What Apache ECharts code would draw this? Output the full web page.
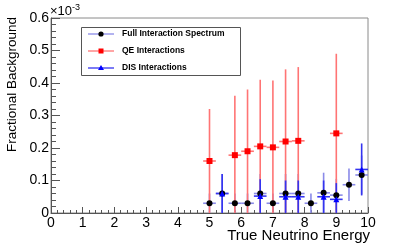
<!DOCTYPE html>
<html>
<head>
<meta charset="utf-8">
<script src="https://cdn.jsdelivr.net/npm/echarts@6/dist/echarts.min.js"></script>
<style>html,body{margin:0;padding:0;background:#fff}#c{width:409px;height:245px}</style>
</head>
<body>
<div id="c"></div>
<script>
// Data (values in units of 1e-3)
var fullX   = [5.0, 5.4, 5.8, 6.2, 6.6, 7.0, 7.4, 7.8, 8.2, 8.6, 9.0, 9.4, 9.8];
var fullY   = [0.03, 0.06, 0.03, 0.03, 0.06, 0.03, 0.06, 0.06, 0.03, 0.062, 0.055, 0.087, 0.117];
var fullErr = [0.03, 0.06, 0.03, 0.03, 0.06, 0.03, 0.06, 0.06, 0.03, 0.062, 0.05, 0.05, 0.06];

var qeX   = [5.0, 5.8, 6.2, 6.6, 7.0, 7.4, 7.8, 9.0];
var qeY   = [0.16, 0.178, 0.19, 0.205, 0.202, 0.22, 0.222, 0.245];
var qeErr = [0.16, 0.183, 0.19, 0.205, 0.206, 0.222, 0.227, 0.245];

var disX   = [5.4, 6.6, 7.4, 7.8, 8.6, 9.0, 9.8];
var disY   = [0.06, 0.052, 0.05, 0.05, 0.05, 0.042, 0.134];
var disErr = [0.06, 0.052, 0.05, 0.05, 0.05, 0.05, 0.08];

var binHalfWidth = 0.2;
var seriesNames = ['Full Interaction Spectrum', 'QE Interactions', 'DIS Interactions'];

function rows(xs, ys, es) {
  return xs.map(function (x, i) { return [x, ys[i], es[i]]; });
}

function errRender(color) {
  return function (params, api) {
    var x = api.value(0), y = api.value(1), e = api.value(2);
    var lo = Math.max(0, y - e), hi = y + e;
    var pL = api.coord([x - binHalfWidth, y]);
    var pR = api.coord([x + binHalfWidth, y]);
    var pT = api.coord([x, hi]);
    var pB = api.coord([x, lo]);
    var st = { stroke: color, lineWidth: 1.6 };
    return {
      type: 'group',
      children: [
        { type: 'line', shape: { x1: pL[0], y1: pL[1], x2: pR[0], y2: pR[1] }, style: st },
        { type: 'line', shape: { x1: pT[0], y1: pT[1], x2: pB[0], y2: pB[1] }, style: st }
      ]
    };
  };
}

var fullLine = '#8a8ae8', qeLine = '#ff7474', disLine = '#3434f0';

var chart = echarts.init(document.getElementById('c'), null, { renderer: 'canvas' });
var font = 'Liberation Sans, Arial, Helvetica, sans-serif';

var legendX = 81, legendY = 27;
var legendRows = [34, 51, 68];
var legendGraphics = [
  { type: 'rect', shape: { x: legendX + 0.5, y: legendY + 0.5, width: 159, height: 48 },
    style: { fill: '#fff', stroke: '#555', lineWidth: 1 }, z: 10 }
];
var legColors = [fullLine, qeLine, disLine];
for (var i = 0; i < 3; i++) {
  var ry = legendRows[i];
  legendGraphics.push({ type: 'line', shape: { x1: 88, y1: ry, x2: 114, y2: ry },
    style: { stroke: legColors[i], lineWidth: 1.3 }, z: 11 });
  if (i === 0) legendGraphics.push({ type: 'circle', shape: { cx: 101, cy: ry, r: 2.6 }, style: { fill: '#000' }, z: 12 });
  if (i === 1) legendGraphics.push({ type: 'rect', shape: { x: 98.5, y: ry - 2.5, width: 5, height: 5 }, style: { fill: '#ff0000' }, z: 12 });
  if (i === 2) legendGraphics.push({ type: 'polygon', shape: { points: [[101, ry - 3], [104, ry + 2], [98, ry + 2]] }, style: { fill: '#0000ff' }, z: 12 });
  legendGraphics.push({ type: 'text', x: 122, y: ry, z: 12,
    style: { text: seriesNames[i], font: 'bold 8.5px ' + font, fill: '#000', verticalAlign: 'middle', align: 'left' } });
}

var option = {
  animation: false,
  backgroundColor: '#fff',
  grid: { left: 51, right: 41, top: 18, bottom: 32, show: true, borderColor: '#8a8a8a', borderWidth: 1 },
  xAxis: {
    type: 'value', min: 0, max: 10, interval: 1,
    axisLine: { show: true, onZero: false, lineStyle: { color: '#555', width: 1 } },
    axisTick: { show: true, inside: true, length: 6, lineStyle: { color: '#555' } },
    minorTick: { show: true, splitNumber: 5, length: 3, lineStyle: { color: '#555' } },
    splitLine: { show: false },
    axisLabel: { color: '#000', fontFamily: font, fontSize: 14, margin: 3 }
  },
  yAxis: {
    type: 'value', min: 0, max: 0.6, interval: 0.1,
    axisLine: { show: true, onZero: false, lineStyle: { color: '#555', width: 1 } },
    axisTick: { show: true, inside: true, length: 9, lineStyle: { color: '#555' } },
    minorTick: { show: true, splitNumber: 5, length: 5, lineStyle: { color: '#555' } },
    splitLine: { show: false },
    axisLabel: { color: '#000', fontFamily: font, fontSize: 14, margin: 2,
      formatter: function (v) { return v === 0 ? '0' : (Math.round(v * 10) / 10).toString(); } }
  },
  graphic: legendGraphics.concat([
    { type: 'text', x: 12, y: 17, rotation: Math.PI / 2,
      style: { text: 'Fractional Background', font: '13.5px ' + font, fill: '#000', align: 'right', verticalAlign: 'middle' } },
    { type: 'text', x: 370, y: 236,
      style: { text: 'True Neutrino Energy', font: '15px ' + font, fill: '#000', align: 'right', verticalAlign: 'middle' } },
    { type: 'text', x: 50, y: 11,
      style: { text: '×10{s|-3}', font: '13px ' + font, fill: '#000', align: 'left', verticalAlign: 'middle',
        rich: { s: { fontSize: 9, fontFamily: font, verticalAlign: 'top', padding: [0, 0, 7, 0] } } } }
  ]),
  series: [
    { name: seriesNames[0] + ' err', type: 'custom', renderItem: errRender(fullLine), data: rows(fullX, fullY, fullErr), clip: true, z: 2 },
    { name: seriesNames[1] + ' err', type: 'custom', renderItem: errRender(qeLine), data: rows(qeX, qeY, qeErr), clip: true, z: 2 },
    { name: seriesNames[2] + ' err', type: 'custom', renderItem: errRender(disLine), data: rows(disX, disY, disErr), clip: true, z: 2 },
    { name: seriesNames[0], type: 'scatter', symbol: 'circle', symbolSize: 6, itemStyle: { color: '#000', opacity: 1 },
      data: fullX.map(function (x, i) { return [x, fullY[i]]; }), z: 3 },
    { name: seriesNames[1], type: 'scatter', symbol: 'rect', symbolSize: 6, itemStyle: { color: '#ff0000', opacity: 1 },
      data: qeX.map(function (x, i) { return [x, qeY[i]]; }), z: 3 },
    { name: seriesNames[2], type: 'scatter', symbol: 'triangle', symbolSize: 6, itemStyle: { color: '#0000ff', opacity: 1 },
      data: disX.map(function (x, i) { return [x, disY[i]]; }), z: 3 }
  ]
};
chart.setOption(option);
</script>
</body>
</html>
